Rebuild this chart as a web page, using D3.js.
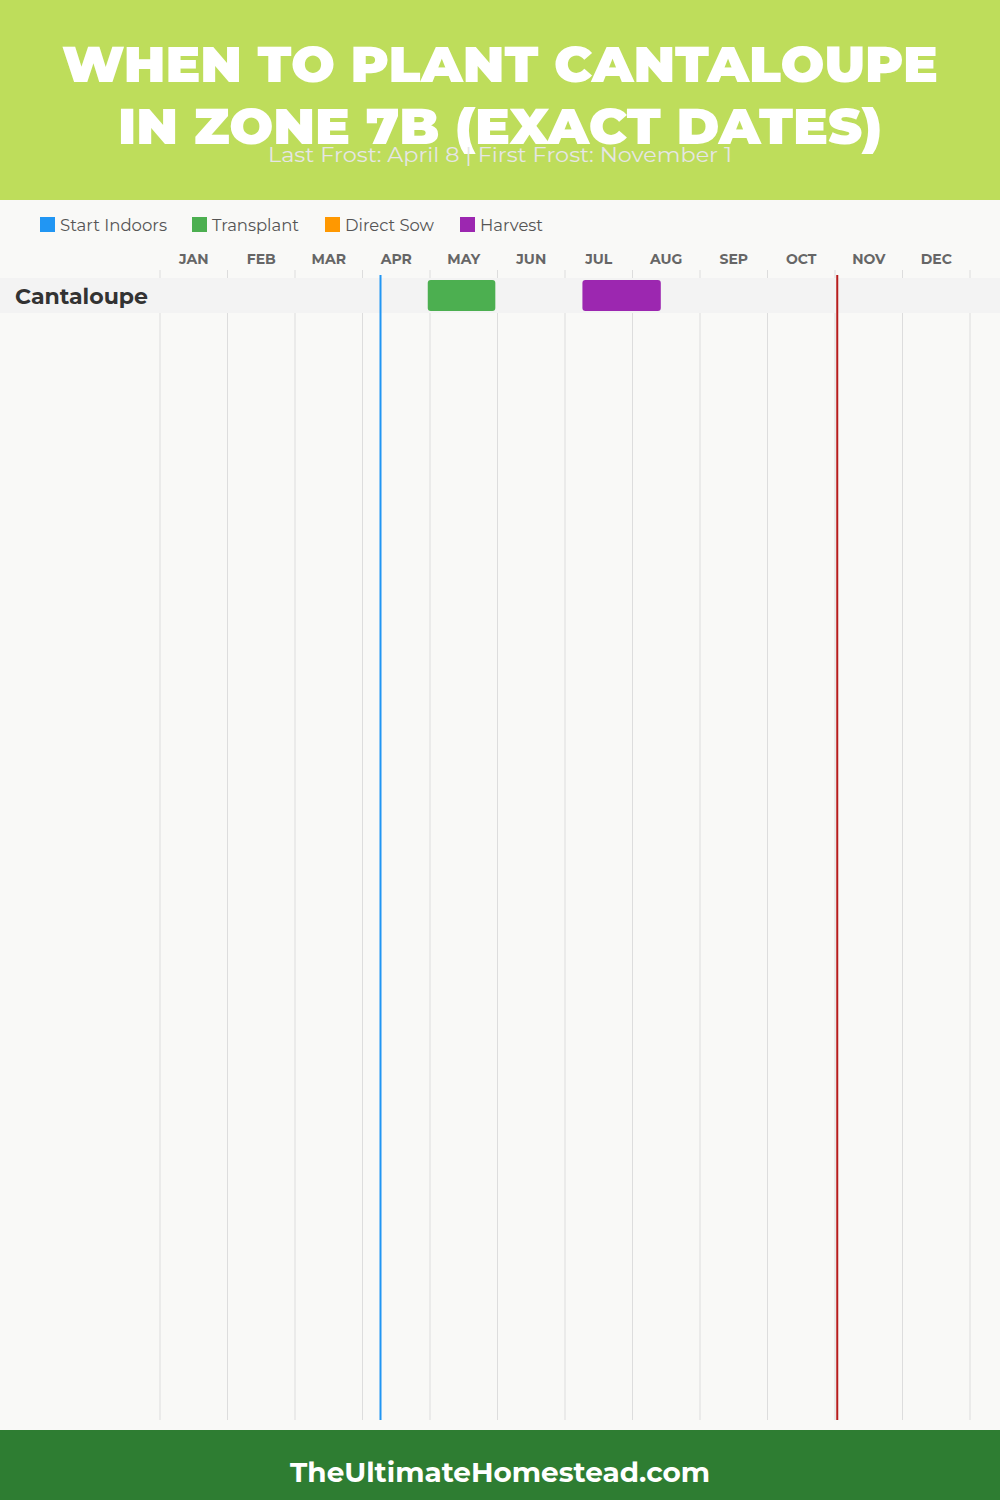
<!DOCTYPE html>
<html>
<head>
<meta charset="utf-8">
<script src="https://cdn.jsdelivr.net/npm/d3@7"></script>
<style>
  html, body { margin: 0; padding: 0; background: #f9f9f7; }
  svg { display: block; }
</style>
</head>
<body>
<script>
// ---- data ----
const months = ["JAN","FEB","MAR","APR","MAY","JUN","JUL","AUG","SEP","OCT","NOV","DEC"];
const daysInMonth = [31,28,31,30,31,30,31,31,30,31,30,31];
const crops = ["Cantaloupe"];
const legendLabels = ["Start Indoors","Transplant","Direct Sow","Harvest"];
const legendColors = ["#2196f3","#4caf50","#ff9800","#9c27b0"];
// tasks: [crop, activity, start month(1-12), start day, end month, end day]
const tasks = [
  ["Cantaloupe","Transplant",4,29,5,30],
  ["Cantaloupe","Harvest",7,8,8,13]
];
const lastFrost = [4, 8];
const firstFrost = [11, 1];
const titleLines = ["WHEN TO PLANT CANTALOUPE","IN ZONE 7B (EXACT DATES)"];
const subtitle = "Last Frost: April 8 | First Frost: November 1";
const footer = "TheUltimateHomestead.com";

// ---- drawing ----
const W = 1000, H = 1500;
const font = "Montserrat, Inter, 'Noto Sans', sans-serif";
const svg = d3.select("body").append("svg").attr("width", W).attr("height", H);

svg.append("rect").attr("width", W).attr("height", H).attr("fill", "#f9f9f7");
// header
svg.append("rect").attr("width", W).attr("height", 200).attr("fill", "#bedd5b");
const titleWidths = [876, 764];
titleLines.forEach((t, i) => {
  svg.append("text").attr("x", 500).attr("y", 82 + i * 62)
    .attr("text-anchor", "middle").attr("fill", "#fff")
    .attr("font-family", font).attr("font-weight", 900).attr("font-size", 50)
    .attr("textLength", titleWidths[i]).attr("lengthAdjust", "spacingAndGlyphs")
    .text(t);
});
svg.append("text").attr("x", 500).attr("y", 162).attr("text-anchor", "middle")
  .attr("fill", "#e6e6e6").attr("font-family", font).attr("font-size", 20)
  .attr("textLength", 464).attr("lengthAdjust", "spacingAndGlyphs")
  .text(subtitle);

// legend
const legendX = [40, 192, 325, 460];
const legendW = [107, 87, 89, 63];
const lg = svg.append("g");
legendLabels.forEach((l, i) => {
  lg.append("rect").attr("x", legendX[i]).attr("y", 217).attr("width", 15).attr("height", 15)
    .attr("fill", legendColors[i]);
  lg.append("text").attr("x", legendX[i] + 20).attr("y", 231)
    .attr("fill", "#555").attr("font-family", font).attr("font-size", 16.5)
    .attr("textLength", legendW[i]).attr("lengthAdjust", "spacingAndGlyphs").text(l);
});

// scales
const x = d3.scaleLinear().domain([0, 12]).range([160, 970]);
const toX = (m, d) => x((m - 1) + d / daysInMonth[m - 1]);
const y = d3.scaleBand().domain(crops).range([278, 278 + 35 * crops.length]);
const colorOf = d3.scaleOrdinal().domain(legendLabels).range(legendColors);

// month labels
svg.append("g").selectAll("text").data(months).join("text")
  .attr("x", (d, i) => x(i + 0.5)).attr("y", 264)
  .attr("text-anchor", "middle").attr("fill", "#666")
  .attr("font-family", font).attr("font-weight", 700).attr("font-size", 14)
  .text(d => d);

// grid lines
svg.append("g").selectAll("line").data(d3.range(13)).join("line")
  .attr("x1", d => x(d)).attr("x2", d => x(d))
  .attr("y1", 270).attr("y2", 1420)
  .attr("stroke", "#dddddd").attr("stroke-width", 1);

// row bands
svg.append("g").selectAll("rect").data(crops).join("rect")
  .attr("x", 0).attr("width", W).attr("y", d => y(d)).attr("height", y.bandwidth())
  .attr("fill", "#f3f3f3");
svg.append("g").selectAll("text").data(crops).join("text")
  .attr("x", 15).attr("y", d => y(d) + 26)
  .attr("fill", "#333").attr("font-family", font).attr("font-weight", 700).attr("font-size", 22)
  .attr("textLength", 133).attr("lengthAdjust", "spacingAndGlyphs")
  .text(d => d);

// bars
svg.append("g").selectAll("rect").data(tasks).join("rect")
  .attr("x", d => toX(d[2], d[3]))
  .attr("width", d => toX(d[4], d[5]) - toX(d[2], d[3]))
  .attr("y", d => y(d[0]) + 2).attr("height", y.bandwidth() - 4)
  .attr("rx", 3).attr("fill", d => colorOf(d[1]));

// frost lines
svg.append("line").attr("x1", toX(...lastFrost)).attr("x2", toX(...lastFrost))
  .attr("y1", 275).attr("y2", 1420).attr("stroke", "#2196f3").attr("stroke-width", 2);
svg.append("line").attr("x1", toX(...firstFrost)).attr("x2", toX(...firstFrost))
  .attr("y1", 275).attr("y2", 1420).attr("stroke", "#b71c1c").attr("stroke-width", 2);

// footer
svg.append("rect").attr("y", 1430).attr("width", W).attr("height", 70).attr("fill", "#2e7d32");
svg.append("text").attr("x", 500).attr("y", 1482).attr("text-anchor", "middle")
  .attr("fill", "#fff").attr("font-family", font).attr("font-weight", 700).attr("font-size", 28)
  .attr("textLength", 420).attr("lengthAdjust", "spacingAndGlyphs")
  .text(footer);
</script>
</body>
</html>
